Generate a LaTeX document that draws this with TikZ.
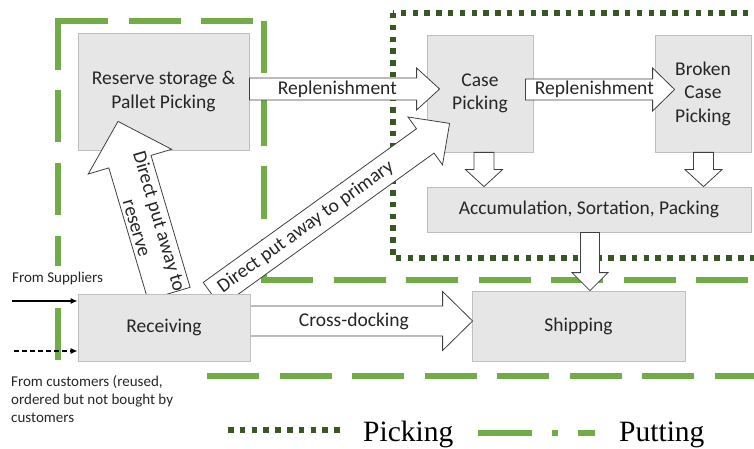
\documentclass[tikz,border=0pt]{standalone}
\usepackage{fontspec}
\setmainfont{Carlito}
\newfontfamily\legendfont{Liberation Serif}
\usetikzlibrary{calc,arrows.meta}
\definecolor{boxfill}{HTML}{E7E6E6}
\definecolor{boxline}{HTML}{BFBFBF}
\definecolor{putgreen}{HTML}{70AD47}
\definecolor{pickgreen}{HTML}{385723}
\definecolor{txt}{HTML}{262626}
\definecolor{arrline}{HTML}{404040}
\pgfdeclarelayer{front}
\pgfsetlayers{main,front}
\tikzset{
  stage/.style={draw=boxline, fill=boxfill, line width=0.8pt, text=txt,
    font=\fontsize{19.5}{23.5}\selectfont, align=center, inner sep=0pt},
  blockarrow/.style={draw=arrline, fill=white, line width=0.8pt, line join=miter},
  arrowtext/.style={text=txt, font=\fontsize{19.5}{23.5}\selectfont, inner sep=0pt},
  putting/.style={draw=putgreen, line width=6pt, dash pattern=on 52pt off 20.5pt},
  picking/.style={draw=pickgreen, line width=5.5pt, dash pattern=on 5.5pt off 6.3pt},
  sidelabel/.style={text=txt, font=\fontsize{15}{18}\selectfont, align=left, inner sep=0pt},
  legendtext/.style={font=\legendfont\fontsize{29.5}{32}\selectfont, anchor=base west,
    inner sep=0pt, text=black},
  inarrow/.style={draw=black, line width=1.3pt, -{Latex[length=7pt,width=6pt]}},
}
% block arrow: #2 start, #3 tip, #4 half shaft, #5 half head, #6 head length
\newcommand\blockarrow[6][]{%
  \coordinate (bahead) at ($(#3)!#6!(#2)$);
  \draw[blockarrow,#1] ($(#2)!#4!90:(#3)$) -- ($(bahead)!#4!90:(#3)$)
    -- ($(bahead)!#5!90:(#3)$) -- (#3) -- ($(bahead)!#5!-90:(#3)$)
    -- ($(bahead)!#4!-90:(#3)$) -- ($(#2)!#4!-90:(#3)$) -- cycle;
}
\begin{document}
\begin{tikzpicture}[x=1pt,y=-1pt]
\clip (0,0) rectangle (754,449);
% ---- regions ----
\draw[picking] (393,13) rectangle (780,258);
\draw[putting] (261,280) -- (754,280);
\draw[putting, dash phase=11pt] (264,280) -- (264,21);
\draw[putting] (253,21) -- (55,21);
\draw[putting] (58,18) -- (58,364);
\draw[putting] (207,376) -- (754,376);
% ---- stages ----
\node[stage, minimum width=171pt, minimum height=117pt] (reserve) at (163.5,91.5) {Reserve storage \&\\Pallet Picking};
\node[stage, minimum width=106pt, minimum height=117pt] (case) at (480,93.5) {Case\\Picking};
\node[stage, minimum width=96pt, minimum height=117pt] (broken) at (703,93.5) {Broken\\Case\\Picking};
\node[stage, minimum width=324pt, minimum height=45pt] (accum) at (589,209.5) {Accumulation, Sortation, Packing};
\node[stage, minimum width=213pt, minimum height=70pt] (shipping) at (578.5,326) {Shipping};
\begin{pgfonlayer}{front}
\node[stage, minimum width=172pt, minimum height=67pt] (receiving) at (164,327.5) {Receiving};
\end{pgfonlayer}
% ---- replenishment ----
\coordinate (r1a) at ($(reserve.east)+(0,-2.5)$);
\coordinate (r1b) at ($(case.west)+(13,-4.5)$);
\blockarrow{r1a}{r1b}{11pt}{21pt}{23pt}
\node[arrowtext] (t1) at ($(r1a)+(88,0)$) {Replenishment};
\coordinate (r2a) at ($(case.east)+(-8,-4)$);
\coordinate (r2b) at ($(broken.west)+(20,-4)$);
\blockarrow{r2a}{r2b}{10.5pt}{21.5pt}{22pt}
\node[arrowtext] (t2) at ($(r2a)+(69,0)$) {Replenishment};
% ---- down arrows ----
\coordinate (d1a) at ($(case.south)+(4,0)$);
\coordinate (d1b) at (d1a |- accum.north);
\blockarrow{d1a}{d1b}{10pt}{18.5pt}{17pt}
\coordinate (d2a) at ($(broken.south)+(0.5,0)$);
\coordinate (d2b) at (d2a |- accum.north);
\blockarrow{d2a}{d2b}{10pt}{18.5pt}{17pt}
\coordinate (d3a) at ($(accum.south)+(1,0)$);
\coordinate (d3b) at (d3a |- shipping.north);
\blockarrow{d3a}{d3b}{9.5pt}{18pt}{18pt}
% ---- cross-docking ----
\coordinate (xa) at ($(receiving.east)+(0,-6.5)$);
\coordinate (xb) at ($(shipping.west |- xa)+(1,0)$);
\blockarrow{xa}{xb}{15pt}{29.5pt}{30pt}
\node[arrowtext] (t3) at ($(xa)+(103.5,0)$) {Cross-docking};
% ---- direct put away ----
\coordinate (dra) at ($(receiving.north)+(5,0)$);
\coordinate (drb) at ($(reserve.south)+(-45.5,-29)$);
\blockarrow{dra}{drb}{22pt}{43.5pt}{42pt}
\path (dra) -- (drb) node[arrowtext, pos=0.40, sloped, align=center] (t4) {Direct put away to\\reserve};
\coordinate (dpa) at ($(receiving.north)+(48,1)$);
\coordinate (dpb) at ($(case.south west)+(23,-29)$);
\blockarrow{dpa}{dpb}{15pt}{29.5pt}{30pt}
\path (dpa) -- (dpb) node[arrowtext, pos=0.395, sloped] (t5) {Direct put away to primary};
% ---- inputs ----
\node[sidelabel, anchor=base west, fill=white, inner ysep=6pt, inner xsep=1pt] (suppliers) at (11,282) {From Suppliers};
\node[sidelabel, anchor=north west] (customers) at (11,375) {From customers (reused,\\ordered but not bought by\\customers};
\coordinate (sup) at (12,301);
\draw[inarrow] (sup) -- (sup -| receiving.west);
\coordinate (cus) at (14,351);
\draw[inarrow, dash pattern=on 5pt off 3pt] (cus) -- (cus -| receiving.west);
% ---- legend ----
\draw[picking] (228,430) -- (340,430);
\node[legendtext] (lpick) at (363,441) {Picking};
\draw[draw=putgreen, line width=6pt, dash pattern=on 54pt off 20pt on 6pt off 20pt on 17pt off 60pt] (478,433) -- (595,433);
\node[legendtext] (lput) at (619,441) {Putting};
\end{tikzpicture}
\end{document}
